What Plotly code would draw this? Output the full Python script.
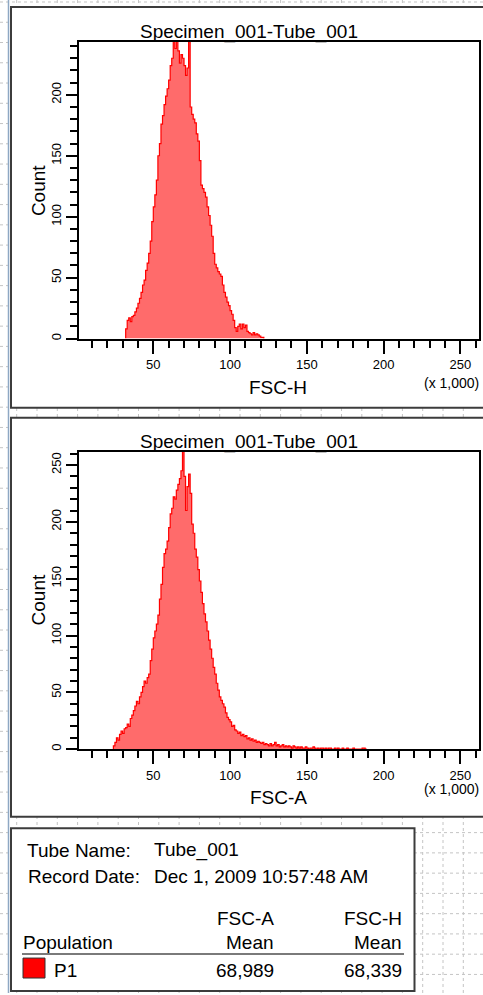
import plotly.graph_objects as go

# ── Histogram data (counts per 1,000-unit channel) ───────────────
BIN_WIDTH = 1.0   # x 1,000

FSC_H_START = 32
FSC_H_COUNTS = [
    8, 15, 17, 14, 18, 19, 22, 25, 29, 33,
    38, 44, 48, 56, 62, 70, 80, 96, 108, 118,
    130, 150, 160, 176, 183, 192, 199, 205, 212, 224,
    230, 246, 238, 252, 236, 226, 233, 230, 224, 216,
    222, 250, 190, 184, 180, 177, 168, 162, 146, 126,
    123, 120, 116, 108, 101, 93, 84, 70, 61, 58,
    55, 53, 51, 44, 38, 34, 30, 27, 23, 20,
    15, 9, 6, 10, 12, 8, 12, 9, 11, 6,
    5, 4, 3, 5, 3, 4, 3, 2, 1, 1,
]

FSC_A_START = 24
FSC_A_COUNTS = [
    3, 6, 10, 8, 13, 16, 14, 18, 19, 22,
    20, 27, 30, 34, 38, 42, 40, 46, 50, 55,
    60, 58, 63, 66, 78, 88, 98, 104, 110, 118,
    132, 145, 160, 172, 176, 183, 195, 207, 212, 222,
    220, 228, 233, 238, 245, 262, 240, 210, 231, 242,
    225, 198, 190, 176, 169, 158, 148, 138, 128, 119,
    112, 104, 96, 88, 80, 72, 66, 58, 52, 46,
    43, 40, 37, 32, 28, 26, 24, 20, 21, 17,
    16, 14, 15, 12, 13, 11, 12, 9, 10, 8,
    9, 7, 8, 6, 7, 6, 5, 6, 4, 5,
    4, 3, 5, 3, 4, 6, 3, 4, 2, 3,
    4, 2, 3, 2, 3, 2, 1, 3, 2, 1,
    2, 1, 2, 1, 1, 2, 1, 0, 1, 1,
    2, 1, 0, 1, 0, 1, 1, 0, 1, 0,
    1, 1, 0, 0, 1, 0, 1, 0, 0, 1,
    0, 0, 1, 0, 0, 0, 1, 0, 0, 0,
    0, 0, 1, 1, 0,
]

X_MAX = 262.144
X_TICKS = [50, 100, 150, 200, 250]

TUBE_NAME = "Tube_001"
RECORD_DATE = "Dec 1, 2009 10:57:48 AM"
POPULATION = "P1"
FSC_A_MEAN = "68,989"
FSC_H_MEAN = "68,339"
SPECIMEN = "Specimen_001-Tube_001"

W, H = 483, 995
FONT = "Liberation Sans, Arial, sans-serif"


def px(x):
    return x / W


def py(y):
    return 1 - y / H


def step_xy(start, counts):
    xs = [start] + [start + i * BIN_WIDTH for i in range(len(counts))] + [start + len(counts) * BIN_WIDTH]
    ys = [0] + list(counts) + [0]
    return xs, ys


fig = go.Figure()

for counts, start, yref in [(FSC_H_COUNTS, FSC_H_START, "y"), (FSC_A_COUNTS, FSC_A_START, "y2")]:
    xs, ys = step_xy(start, counts)
    fig.add_trace(go.Scatter(
        x=xs, y=ys, xaxis="x" if yref == "y" else "x2", yaxis=yref,
        mode="lines", line=dict(color="#ff0000", width=1.2, shape="hv"),
        fill="tozeroy", fillcolor="#ff6b6b", showlegend=False, hoverinfo="skip",
    ))

axis_common = dict(
    showline=True, linecolor="black", linewidth=2, mirror=True,
    showgrid=False, zeroline=False,
    ticks="outside", tickcolor="black", tickwidth=2,
)
tick_font = dict(family=FONT, size=13, color="black")
minor = dict(ticks="outside", dtick=10, tick0=0, ticklen=7, tickwidth=2, tickcolor="black")

x_dom = [px(79), px(479)]
for name, anchor in [("xaxis", "y"), ("xaxis2", "y2")]:
    fig.layout[name] = dict(
        axis_common, domain=x_dom, range=[1.6, X_MAX], anchor=anchor,
        tickvals=X_TICKS, ticklen=13, tickfont=tick_font, minor=minor,
    )

fig.layout["yaxis"] = dict(
    axis_common, domain=[py(339.3), py(42)], range=[0, 243.4], anchor="x",
    dtick=50, tick0=0, ticklen=11, tickangle=-90, tickfont=tick_font, minor=minor,
)
fig.layout["yaxis2"] = dict(
    axis_common, domain=[py(750.7), py(453)], range=[0, 261.4], anchor="x2",
    dtick=50, tick0=0, ticklen=11, tickangle=-90, tickfont=tick_font, minor=minor,
)

# ── Background: dotted worksheet grid + panel frames ─────────────
shapes = []
grid = dict(color="#c4c4c4", width=1, dash="dot")
gx = 443.0
while gx > 0:
    gx -= 20.3
gx += 20.3
while gx < W + 1:
    shapes.append(dict(type="line", xref="paper", yref="paper", x0=px(gx), x1=px(gx),
                       y0=0, y1=1, line=grid, layer="below"))
    gx += 20.3
gy = 2.0
while gy < H:
    shapes.append(dict(type="line", xref="paper", yref="paper", x0=0, x1=1,
                       y0=py(gy), y1=py(gy), line=grid, layer="below"))
    gy += 20.3

frame_line = dict(color="#3c3c3c", width=2)
for x0, x1, y0, y1 in [(11, 495, 7, 408.5), (11, 495, 418.5, 818.5), (11, 414.5, 830, 993)]:
    shapes.append(dict(type="rect", xref="paper", yref="paper",
                       x0=px(x0), x1=px(x1), y0=py(y1), y1=py(y0),
                       line=frame_line, fillcolor="white", layer="below"))
shapes.append(dict(type="line", xref="paper", yref="paper", x0=px(8.5), x1=px(8.5),
                   y0=0, y1=1, line=dict(color="#8ea8c4", width=1.5), layer="below"))

# stats table separator + population colour box
shapes.append(dict(type="line", xref="paper", yref="paper", x0=px(22), x1=px(404),
                   y0=py(956), y1=py(956), line=dict(color="#7a7a7a", width=2)))
shapes.append(dict(type="rect", xref="paper", yref="paper", x0=px(23), x1=px(45),
                   y0=py(980), y1=py(960), fillcolor="#ff0000", line=dict(color="#303030", width=1)))

# ── Text ─────────────────────────────────────────────────────────
ann = []


def txt(text, x, y, size=19, xanchor="left", angle=0):
    ann.append(dict(text=text, x=px(x), y=py(y), xref="paper", yref="paper",
                    xanchor=xanchor, yanchor="middle", showarrow=False, textangle=angle,
                    font=dict(family=FONT, size=size, color="black")))


for top in (0, 411):
    txt(SPECIMEN, 249, 32 + top, xanchor="center")
    txt("Count", 38.5, 191 + top * 0.998, angle=-90, xanchor="center")
    txt("(x 1,000)", 481, 384 + top * 0.99, size=14, xanchor="right")
txt("FSC-H", 278, 388, xanchor="center")
txt("FSC-A", 278, 799, xanchor="center")

txt("Tube Name:", 25, 852)
txt(TUBE_NAME, 152, 852)
txt("Record Date:", 26, 878)
txt(RECORD_DATE, 152, 878)
txt("FSC-A", 276, 920, xanchor="right")
txt("FSC-H", 404, 920, xanchor="right")
txt("Population", 21, 944)
txt("Mean", 276, 944, xanchor="right")
txt("Mean", 404, 944, xanchor="right")
txt(POPULATION, 52, 972)
txt(FSC_A_MEAN, 276, 972, xanchor="right")
txt(FSC_H_MEAN, 404, 972, xanchor="right")

fig.update_layout(
    width=W, height=H, autosize=False,
    margin=dict(l=0, r=0, t=0, b=0),
    paper_bgcolor="white", plot_bgcolor="rgba(0,0,0,0)",
    font=dict(family=FONT, color="black"),
    shapes=shapes, annotations=ann,
)

fig.write_html("out.html", config={"displayModeBar": False},
               post_script="document.body.style.margin='0';")
